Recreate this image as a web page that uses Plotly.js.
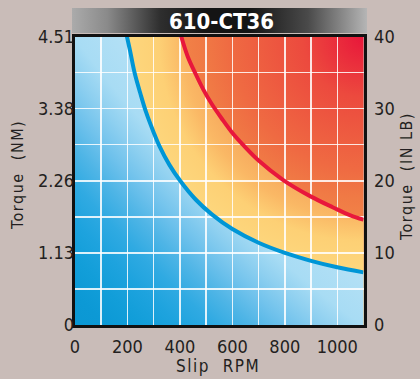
<!DOCTYPE html>
<html><head><meta charset="utf-8">
<script src="https://cdn.plot.ly/plotly-3.0.1.min.js"></script>
<style>html,body{margin:0;padding:0;background:#c9bcb8;} #chart{width:420px;height:379px;}</style>
</head><body><div id="chart"></div>
<script>
// ---- data ----
const RPM_MAX = 1100;
const INLB_MAX = 40;
const NM_MAX = 4.51;
const xTickVals = [0, 200, 400, 600, 800, 1000];
const nmTickVals = [0, 1.13, 2.26, 3.38, 4.51];
const nmTickText = ['0', '1.13', '2.26', '3.38', '4.51'];
const inlbTickVals = [0, 10, 20, 30, 40];
const blueRpm  = [198, 210, 227, 250, 271, 300, 322, 360, 401, 460, 523, 600, 700, 800, 900, 1000, 1100];
const blueInlb = [40, 38, 35, 32, 29.5, 26.7, 24.8, 22.2, 20, 17.4, 15.3, 13.3, 11.4, 10, 8.9, 8, 7.3];
const redRpm   = [405, 430, 460, 490, 522, 560, 605, 640, 700, 794, 900, 984, 1050, 1100];
const redInlb  = [40, 37.2, 34.8, 32.6, 30.6, 28.6, 26.4, 25, 22.8, 20.1, 17.8, 16.3, 15.2, 14.6];
const titleText = '610-CT36';
const xTitle = 'Slip\u00a0 RPM';
const yLeftTitle = 'Torque\u00a0\u00a0(NM)';
const yRightTitle = 'Torque\u00a0\u00a0(IN\u00a0LB)';

// ---- style ----
const FONT = '"DejaVu Sans Condensed", "DejaVu Sans", sans-serif';
const INK = '#231f20';
const BG = '#c9bcb8';

// geometry (margins / domains)
const L = 72, R = 53, T = 8, B = 53, W = 420, H = 379;
const aw = W - L - R, ah = H - T - B;
const px2x = px => (px - L) / aw;
const py2y = py => (H - B - py) / ah;
const xDom = [px2x(75), px2x(363.5)];
const yDom = [py2y(325), py2y(36.5)];
const barDom = [py2y(33), 1];

// fill regions: polygons extended outside the plot (clipped away), so that the
// radial gradient bounding box is centred where the colour field is centred.
function extBox(cx, cy, k) {
  return {x0: cx - k * RPM_MAX, x1: cx + k * RPM_MAX, y0: cy - k * INLB_MAX, y1: cy + k * INLB_MAX};
}
const redBox = extBox(RPM_MAX, INLB_MAX, 1.5);
const blueBox = extBox(4 * RPM_MAX, 4 * INLB_MAX, 6);

function regionBelow(cx, cy, box) {
  const xs = [box.x0, box.x0, cx[0]].concat(cx, [box.x1, box.x1]);
  const ys = [box.y0, box.y1, box.y1].concat(cy, [cy[cy.length - 1], box.y0]);
  return {xs, ys};
}
const yellowPoly = regionBelow(redRpm, redInlb, redBox);
const bluePoly = regionBelow(blueRpm, blueInlb, blueBox);

const fillBase = {type: 'scatter', mode: 'lines', fill: 'toself', line: {width: 0, simplify: false}, hoverinfo: 'skip', showlegend: false, xaxis: 'x', yaxis: 'y'};

const traces = [
  Object.assign({}, fillBase, {
    x: [redBox.x0, redBox.x1, redBox.x1, redBox.x0], y: [redBox.y0, redBox.y0, redBox.y1, redBox.y1],
    fillgradient: {type: 'radial', colorscale: [[0, '#e8163a'], [0.06, '#ea2c3c'], [0.14, '#ec4a3e'], [0.307, '#ef6a42'], [0.373, '#f07a45'], [0.47, '#f38a4a'], [1, '#f59a50']]}
  }),
  Object.assign({}, fillBase, {
    x: yellowPoly.xs, y: yellowPoly.ys,
    fillgradient: {type: 'radial', colorscale: [[0, '#f08a48'], [0.30, '#f39550'], [0.36, '#f6a75c'], [0.42, '#fab865'], [0.473, '#fdd075'], [0.533, '#fdd67c'], [1, '#fedb82']]}
  }),
  Object.assign({}, fillBase, {
    x: bluePoly.xs, y: bluePoly.ys,
    fillgradient: {type: 'radial', colorscale: [[0, '#c4e8f8'], [0.80, '#b8e2f6'], [0.834, '#a8dcf4'], [0.8465, '#8fd0f0'], [0.860, '#70c2ec'], [0.873, '#4fb5e6'], [0.887, '#30aae2'], [0.901, '#1ea3de'], [0.9155, '#129ed9'], [0.930, '#0c99d5'], [0.96, '#0a95d1'], [1, '#0892ce']]}
  }),
  {type: 'scatter', mode: 'lines', x: blueRpm, y: blueInlb, xaxis: 'x2', yaxis: 'y2', line: {color: '#0096d6', width: 4, shape: 'spline'}, hoverinfo: 'skip', showlegend: false},
  {type: 'scatter', mode: 'lines', x: redRpm, y: redInlb, xaxis: 'x2', yaxis: 'y2', line: {color: '#e8173c', width: 4, shape: 'spline'}, hoverinfo: 'skip', showlegend: false},
  {type: 'scatter', mode: 'lines', x: [0, 1, 1, 0], y: [0, 0, 1, 1], xaxis: 'x3', yaxis: 'y4', fill: 'toself', line: {width: 0}, hoverinfo: 'skip', showlegend: false,
   fillgradient: {type: 'horizontal', start: 0, stop: 1, colorscale: [[0, '#ababab'], [0.12, '#8a8a8a'], [0.3, '#2e2e2e'], [0.45, '#141414'], [0.6, '#141414'], [0.8, '#4a4a4a'], [1, '#b5b5b5']]}},
  // empty trace that holds the NM (left) scale subplot
  {type: 'scatter', mode: 'lines', x: [], y: [], xaxis: 'x4', yaxis: 'y5', hoverinfo: 'skip', showlegend: false}
];

const tickFont = {family: FONT, size: 18, color: INK};
const titleFont = {family: FONT, size: 16, color: INK};
const HIDDEN = 'rgba(0,0,0,0)';
function spaced(s, ls) { return '<span style="letter-spacing:' + ls + 'px">' + s + '</span>'; }

const layout = {
  width: W, height: H,
  margin: {l: L, r: R, t: T, b: B, pad: 0},
  paper_bgcolor: BG, plot_bgcolor: 'rgba(0,0,0,0)',
  showlegend: false,
  xaxis: {domain: xDom, range: [0, RPM_MAX], anchor: 'y', showgrid: false, zeroline: false, showline: false,
          tickvals: xTickVals, ticks: 'outside', ticklen: 5, tickcolor: HIDDEN, tickfont: tickFont, fixedrange: true},
  yaxis: {domain: yDom, range: [0, INLB_MAX], anchor: 'x', side: 'right', showgrid: false, zeroline: false, showline: false,
          tickvals: inlbTickVals, ticks: 'outside', ticklen: 6, tickcolor: HIDDEN, tickfont: tickFont, fixedrange: true},
  xaxis2: {domain: xDom, range: [0, RPM_MAX], anchor: 'y2', tick0: 0, dtick: 100, showgrid: true, gridcolor: 'rgba(255,255,255,0.85)', gridwidth: 1.5,
           zeroline: false, showticklabels: false, ticks: '', showline: true, linewidth: 3, linecolor: '#111', mirror: true, fixedrange: true},
  yaxis2: {domain: yDom, range: [0, INLB_MAX], anchor: 'x2', tick0: 0, dtick: 5, showgrid: true, gridcolor: 'rgba(255,255,255,0.85)', gridwidth: 1.5,
           zeroline: false, showticklabels: false, ticks: '', showline: true, linewidth: 3, linecolor: '#111', mirror: true, fixedrange: true},
  xaxis3: {domain: [0, 1], range: [0, 1], anchor: 'y4', visible: false, fixedrange: true},
  yaxis4: {domain: barDom, range: [0, 1], anchor: 'x3', visible: false, fixedrange: true},
  xaxis4: {domain: xDom, range: [0, RPM_MAX], anchor: 'y5', visible: false, fixedrange: true},
  yaxis5: {domain: yDom, range: [0, NM_MAX], anchor: 'x4', side: 'left', showgrid: false, zeroline: false, showline: false,
          tickvals: nmTickVals, ticktext: nmTickText, ticks: '', tickfont: tickFont, fixedrange: true},
  annotations: [
    {text: '<b>' + titleText + '</b>', xref: 'paper', yref: 'paper', x: px2x(221.5), y: py2y(21.5),
     xanchor: 'center', yanchor: 'middle', showarrow: false, font: {family: FONT, size: 22, color: '#ffffff'}},
    {text: spaced(xTitle, 1.5), xref: 'paper', yref: 'paper', x: px2x(218), y: py2y(366),
     xanchor: 'center', yanchor: 'middle', showarrow: false, font: {family: FONT, size: 17, color: INK}},
    {text: spaced(yLeftTitle, 1.5), xref: 'paper', yref: 'paper', x: px2x(17), y: py2y(175), textangle: -90,
     xanchor: 'center', yanchor: 'middle', showarrow: false, font: titleFont},
    {text: spaced(yRightTitle, 1.5), xref: 'paper', yref: 'paper', x: px2x(406), y: py2y(177), textangle: -90,
     xanchor: 'center', yanchor: 'middle', showarrow: false, font: titleFont}
  ]
};

Plotly.newPlot('chart', traces, layout, {staticPlot: true, displayModeBar: false});
</script>
</body></html>
